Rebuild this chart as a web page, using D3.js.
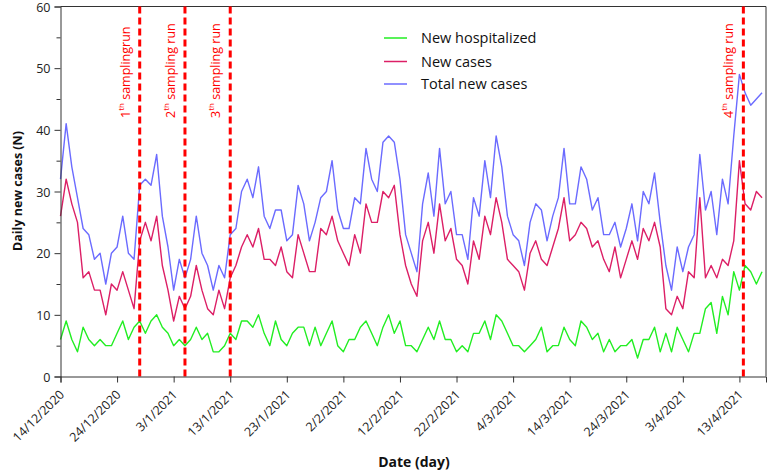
<!DOCTYPE html>
<html><head><meta charset="utf-8">
<script src="https://cdn.jsdelivr.net/npm/d3@7"></script>
<style>
body{margin:0;background:#fff}
svg{display:block;background:#fff}
text{font-family:"Open Sans",sans-serif}
</style>
</head><body>
<svg id="c" width="770" height="473"></svg>
<script>
// ---- data ----
const startDate = "14/12/2020";
const newHospitalized = [
  6, 9, 6, 4, 8, 6, 5, 6, 5, 5, 7, 9, 6, 8, 9, 7, 9, 10, 8, 7, 5, 6,
  5, 6, 8, 6, 7, 4, 4, 5, 7, 6, 9, 9, 8, 10, 7, 5, 9, 6, 5, 7, 8,
  8, 5, 8, 5, 7, 9, 5, 4, 6, 6, 8, 9, 7, 5, 8, 10, 7, 9, 5, 5, 4,
  6, 8, 6, 9, 6, 6, 4, 5, 4, 7, 7, 9, 6, 10, 9, 7, 5, 5, 4, 5, 6,
  8, 4, 5, 5, 8, 6, 5, 9, 8, 6, 7, 4, 6, 4, 5, 5, 6, 3, 6, 6, 8,
  4, 7, 4, 8, 6, 4, 7, 7, 11, 12, 7, 13, 10, 17, 14, 18, 17, 15, 17
];
const newCases = [
  26, 32, 28, 25, 16, 17, 14, 14, 10, 15, 14, 17, 14, 11, 22, 25, 22, 26, 18, 14, 9, 13,
  11, 13, 18, 14, 11, 10, 14, 11, 16, 18, 21, 23, 21, 24, 19, 19, 18, 21, 17, 16, 23,
  20, 17, 17, 24, 23, 26, 22, 20, 18, 23, 20, 28, 25, 25, 30, 29, 31, 23, 18, 15, 13,
  22, 25, 20, 28, 22, 24, 19, 18, 15, 22, 19, 26, 23, 29, 25, 19, 18, 17, 14, 20, 22,
  19, 18, 21, 24, 29, 22, 23, 25, 24, 21, 22, 19, 17, 21, 16, 19, 22, 19, 24, 22, 25,
  21, 11, 10, 13, 11, 17, 16, 29, 16, 18, 16, 19, 18, 22, 35, 28, 27, 30, 29
];
const totalNewCases = [
  32, 41, 34, 29, 24, 23, 19, 20, 15, 20, 21, 26, 20, 19, 31, 32, 31, 36, 26, 21, 14, 19,
  16, 19, 26, 20, 18, 14, 18, 16, 23, 24, 30, 32, 29, 34, 26, 24, 27, 27, 22, 23, 31,
  28, 22, 25, 29, 30, 35, 27, 24, 24, 29, 28, 37, 32, 30, 38, 39, 38, 32, 23, 20, 17,
  28, 33, 26, 37, 28, 30, 23, 23, 19, 29, 26, 35, 29, 39, 34, 26, 23, 22, 18, 25, 28,
  27, 22, 26, 29, 37, 28, 28, 34, 32, 27, 29, 23, 23, 25, 21, 24, 28, 22, 30, 28, 33,
  25, 18, 14, 21, 17, 21, 23, 36, 27, 30, 23, 32, 28, 39, 49, 46, 44, 45, 46
];
const seriesNames = ["New hospitalized", "New cases", "Total new cases"];
const xTickLabels = ["14/12/2020","24/12/2020","3/1/2021","13/1/2021","23/1/2021","2/2/2021",
  "12/2/2021","22/2/2021","4/3/2021","14/3/2021","24/3/2021","3/4/2021","13/4/2021"];
const yTicks = [0, 10, 20, 30, 40, 50, 60];
const yMinorTicks = [5, 15, 25, 35, 45, 55];
const samplingDayOffsets = [14, 22, 30, 120.7];
const samplingNumbers = ["1", "2", "3", "4"];
const samplingTexts = [" samplingrun", " sampling run", " sampling run", " sampling run"];
const xAxisTitle = "Date (day)";
const yAxisTitle = "Daily new cases (N)";

// ---- chart ----
const parse = d3.utcParse("%d/%m/%Y");
const fmt = d3.utcFormat("%-d/%-m/%Y");
const t0 = parse(startDate);
const dates = newCases.map((_, i) => d3.utcDay.offset(t0, i));
const colors = ["#22ee22", "#dc1f66", "#6b6bff"];
const series = [newHospitalized, newCases, totalNewCases];

const L = 60.5, R = 766, T = 6.5, B = 376.5;
const x = d3.scaleUtc().domain([t0, new Date(t0.getTime() + 124.7 * 864e5)]).range([L, R]);
const y = d3.scaleLinear().domain([0, 60]).range([B, T]);

const svg = d3.select("#c");

// frame (top/right)
svg.append("path").attr("d", `M${L},${T}H${R}V${B}`).attr("fill", "none").attr("stroke", "#333").attr("stroke-width", 1);

// lines
const line = d3.line().x((d, i) => x(dates[i])).y(d => y(d));
series.forEach((s, k) => {
  svg.append("path").datum(s).attr("d", line).attr("fill", "none")
    .attr("stroke", colors[k]).attr("stroke-width", 1.4).attr("stroke-linejoin", "round");
});

// sampling lines
samplingDayOffsets.forEach((off, k) => {
  const xx = x(new Date(t0.getTime() + off * 864e5));
  svg.append("line").attr("x1", xx).attr("x2", xx).attr("y1", T).attr("y2", B)
    .attr("stroke", "#ff0000").attr("stroke-width", 3).attr("stroke-dasharray", "7,4");
  const t = svg.append("text").attr("transform", `translate(${xx - 10},${118}) rotate(-90)`)
    .attr("fill", "#ff0000").attr("font-size", 12.5);
  t.append("tspan").text(samplingNumbers[k]);
  t.append("tspan").attr("font-size", 8).attr("dy", -6).text("th");
  t.append("tspan").attr("dy", 6).text(samplingTexts[k]);
});

// axes
const yAxis = svg.append("g").attr("transform", `translate(${L},0)`)
  .call(d3.axisLeft(y).tickValues(yTicks).tickSize(6).tickPadding(4));
svg.append("g").attr("transform", `translate(${L},0)`)
  .call(d3.axisLeft(y).tickValues(yMinorTicks).tickSize(4).tickFormat(""))
  .call(g => g.select(".domain").remove());
yAxis.selectAll("text").attr("font-size", 12.5).attr("fill", "#222").attr("font-family", "Open Sans")
  .attr("dy", "0.36em");

const xAxis = svg.append("g").attr("transform", `translate(0,${B})`)
  .call(d3.axisBottom(x).tickValues(xTickLabels.map(parse)).tickFormat(fmt).tickSize(6));
xAxis.selectAll("text").attr("font-size", 12.5).attr("fill", "#222").attr("font-family", "Open Sans")
  .attr("text-anchor", "end").attr("x", 0).attr("y", 0).attr("dy", 0)
  .attr("transform", "translate(4,19) rotate(-45)");
svg.selectAll(".domain, .tick line").attr("stroke", "#333");

// titles
svg.append("text").attr("x", 414).attr("y", 467).attr("text-anchor", "middle")
  .attr("font-weight", "bold").attr("font-size", 14).attr("fill", "#111").text(xAxisTitle);
svg.append("text").attr("transform", "translate(22,191) rotate(-90)").attr("text-anchor", "middle")
  .attr("font-weight", "bold").attr("font-size", 12.5).attr("fill", "#111").text(yAxisTitle);

// legend
const legY = [38, 61.5, 84];
seriesNames.forEach((n, k) => {
  svg.append("line").attr("x1", 384).attr("x2", 407).attr("y1", legY[k]).attr("y2", legY[k])
    .attr("stroke", colors[k]).attr("stroke-width", 1.5);
  svg.append("text").attr("x", 421).attr("y", legY[k]).attr("dy", "0.35em")
    .attr("font-size", 14.5).attr("fill", "#111").text(n);
});
</script>
</body></html>
